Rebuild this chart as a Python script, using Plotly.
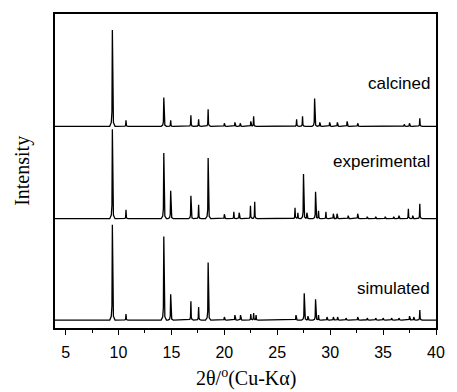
import numpy as np
import plotly.graph_objects as go

# ---- data (peak positions in 2theta, peak heights in arbitrary units) ----
calcined_pos = [9.42, 10.71, 14.28, 14.93, 16.84, 17.57, 18.47, 20.0, 21.0, 21.5, 22.5, 22.77,
                26.83, 27.39, 28.53, 29.02, 29.95, 30.68, 31.6, 32.6, 37.0, 37.49, 38.47]
calcined_int = [97, 6, 29, 6, 11, 7, 17, 3, 4, 3, 5, 10,
                7, 10, 28, 4, 4, 4, 5, 3, 2, 3, 8]

experimental_pos = [9.42, 10.71, 14.28, 14.93, 16.84, 17.57, 18.47, 20.0, 20.9, 21.4, 22.47, 22.87,
                    26.68, 26.95, 27.48, 27.8, 28.62, 28.9, 29.6, 30.3, 30.65, 31.7, 32.6, 33.5,
                    34.3, 35.2, 36.0, 36.5, 37.39, 37.8, 38.47]
experimental_int = [90, 9, 66, 28, 23, 14, 61, 4.5, 7, 6, 13, 17,
                    11, 6, 45, 6, 27, 8, 7, 5, 5, 3, 5, 2,
                    2, 2, 2, 3, 10, 3, 15]

simulated_pos = [9.42, 10.71, 14.28, 14.93, 16.84, 17.57, 18.47, 20.0, 21.0, 21.53, 22.5, 22.77, 23.0,
                 26.77, 27.55, 27.9, 28.62, 28.9, 29.7, 30.3, 30.7, 31.5, 32.6, 33.5, 34.3, 35.0,
                 35.8, 36.5, 37.5, 37.9, 38.47]
simulated_int = [96, 6, 84, 26, 19, 13, 58, 3, 5, 5, 6, 7, 5,
                 5, 27, 4, 21, 5, 3, 3, 3, 2, 3, 2, 2, 2,
                 2, 2, 4, 3, 10]

series_names = ["calcined", "experimental", "simulated"]
x_ticks = [5, 10, 15, 20, 25, 30, 35, 40]

# ---- styling / layout constants ----
offsets = {"calcined": 203, "experimental": 110, "simulated": 8}
tpl_dx = np.array([-0.25, -0.1, -0.04, 0.0, 0.04, 0.1, 0.25])
tpl_fr = np.array([0.0, 0.04, 0.15, 1.0, 0.15, 0.04, 0.0])
X_MIN, X_MAX = 4, 40


def pattern(pos, inten, base):
    grid = [X_MIN, X_MAX]
    for p in pos:
        grid.extend(list(p + tpl_dx))
    grid = np.unique(np.clip(np.array(grid), X_MIN, X_MAX))
    y = np.full_like(grid, float(base))
    for p, h in zip(pos, inten):
        y += np.interp(grid, p + tpl_dx, h * tpl_fr, left=0, right=0)
    return grid, y


data = {
    "calcined": (calcined_pos, calcined_int),
    "experimental": (experimental_pos, experimental_int),
    "simulated": (simulated_pos, simulated_int),
}

fig = go.Figure()
for name in series_names:
    p, h = data[name]
    gx, gy = pattern(p, h, offsets[name])
    fig.add_trace(go.Scatter(x=gx, y=gy, mode="lines", name=name,
                             line=dict(color="black", width=1.3), showlegend=False,
                             hoverinfo="skip"))

label_y = {"calcined": 246, "experimental": 168, "simulated": 40}
for name in series_names:
    fig.add_annotation(x=39.6, y=label_y[name], text=name, showarrow=False,
                       xanchor="right", yanchor="middle",
                       font=dict(family="Liberation Sans, Arial", size=17, color="black"))

fig.add_annotation(xref="paper", yref="paper", x=-0.087, y=0.5, text="Intensity",
                   textangle=-90, showarrow=False, xanchor="center", yanchor="middle",
                   font=dict(family="Liberation Serif, Times New Roman", size=20, color="black"))
fig.add_annotation(xref="paper", yref="paper", x=0.5, y=-0.157,
                   text="2θ/<sup>o</sup>(Cu-Kα)", showarrow=False,
                   xanchor="center", yanchor="middle",
                   font=dict(family="Liberation Serif, Times New Roman", size=20, color="black"))

fig.update_layout(
    width=457, height=392,
    margin=dict(l=55, r=12, t=12, b=64),
    plot_bgcolor="white", paper_bgcolor="white",
    xaxis=dict(range=[X_MIN, X_MAX], tickvals=x_ticks, ticks="outside", ticklen=5,
               tickwidth=1.2, tickcolor="black", showgrid=False, zeroline=False,
               showline=True, linecolor="black", linewidth=1.5, mirror=True,
               ticklabelstandoff=4,
               tickfont=dict(family="Liberation Sans, Arial", size=16, color="black"),
               minor=dict(dtick=2.5, tick0=2.5, ticks="outside", ticklen=3,
                          tickcolor="black", tickwidth=1.2)),
    yaxis=dict(range=[0, 316], showticklabels=False, ticks="", showgrid=False,
               zeroline=False, showline=True, linecolor="black", linewidth=1.5,
               mirror=True),
)

fig.write_html("out.html", config={"displayModeBar": False},
               post_script="document.body.style.margin='0';document.body.style.overflow='hidden';")
